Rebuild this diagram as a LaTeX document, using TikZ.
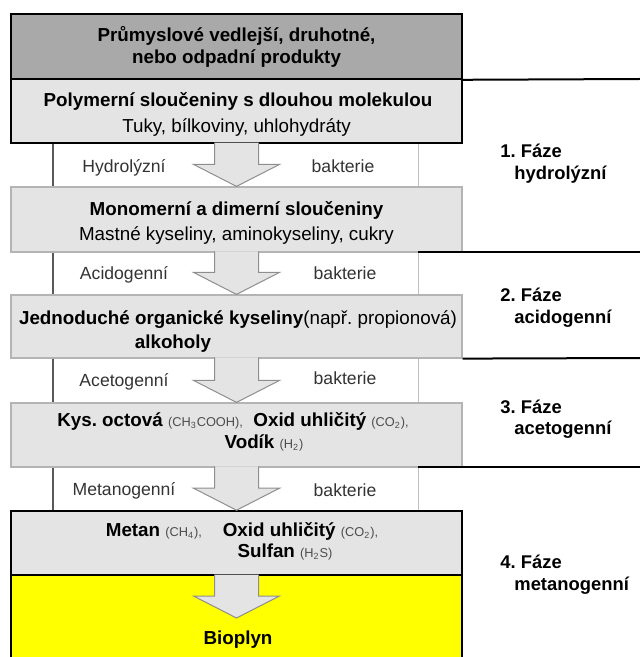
\documentclass[tikz,border=0pt]{standalone}
\usepackage{fontspec}
\setmainfont{Liberation Sans}
\usepackage{xcolor}
\frenchspacing

\definecolor{topgray}{HTML}{A9A9A9}
\definecolor{boxgray}{HTML}{E4E4E4}
\definecolor{edgegray}{HTML}{B4B4B4}
\definecolor{arrowgray}{HTML}{8E8E8E}
\definecolor{biogas}{HTML}{FFFF00}

\newcommand{\chem}[1]{{\fontsize{6.4}{7}\selectfont\mdseries\color{black!70}#1}}
% block arrow from the bottom of one box down to a tip
\newcommand{\stagearrow}[2]{%
  \filldraw[stagearrow] ([xshift=-11pt,yshift=0.6pt]#1) -- ([xshift=-11pt,yshift=11pt]#2)
    -- ([xshift=-21.5pt,yshift=11pt]#2) -- (#2)
    -- ([xshift=21.5pt,yshift=11pt]#2) -- ([xshift=11pt,yshift=11pt]#2)
    -- ([xshift=11pt,yshift=0.6pt]#1);}

\tikzset{
  stage/.style={rectangle,draw=edgegray,fill=boxgray,line width=0.6pt,
    minimum width=225.5pt,inner sep=0pt},
  stagedark/.style={stage,draw=black,line width=0.8pt},
  stagearrow/.style={fill=boxgray,draw=arrowgray,line width=0.5pt,line join=miter},
  title/.style={anchor=base,inner sep=0pt,font=\fontsize{9.4}{11}\selectfont\bfseries},
  note/.style={anchor=base,inner sep=0pt,font=\fontsize{9.4}{11}\selectfont},
  microbe/.style={anchor=base,inner sep=0pt,text=black!80,font=\fontsize{8.8}{10}\selectfont},
  phase/.style={anchor=base west,inner sep=0pt,font=\fontsize{9.2}{10}\selectfont\bfseries},
  bandleft/.style={draw=black!65,line width=0.8pt},
  bandright/.style={draw=black!25,line width=0.5pt},
  phaseline/.style={draw=black,line width=1pt}
}

\begin{document}
\begin{tikzpicture}[x=0.5pt,y=-0.5pt]
\useasboundingbox (0,0) rectangle (640,657);

% bacteria bands
\foreach \top/\bot in {143/187,252/295,358/403,467/511}{
  \draw[bandleft] (53,\top) -- (53,\bot);
  \draw[bandright] (418,\top) -- (418,\bot);
}

% boxes
\node[stagedark,fill=topgray,minimum height=32.5pt] (waste) at (236.5,46.5) {};
\node[stagedark,minimum height=32pt] (poly) at (236.5,111) {};
\node[stage,minimum height=32.5pt] (mono) at (236.5,219.5) {};
\node[stage,minimum height=31.5pt] (acids) at (236.5,326.5) {};
\node[stage,minimum height=32pt] (acetic) at (236.5,435) {};
\node[stagedark,minimum height=32pt] (methane) at (236.5,543) {};
\node[stagedark,fill=biogas,minimum height=42.5pt] (biogas) at (236.5,617.5) {};
\coordinate (biotip) at (236.5,618);

% arrows
\stagearrow{poly.south}{mono.north}
\stagearrow{mono.south}{acids.north}
\stagearrow{acids.south}{acetic.north}
\stagearrow{acetic.south}{methane.north}
\stagearrow{methane.south}{biotip}

% box texts
\node[title] (waste1) at (236.5,42) {Průmyslové vedlejší, druhotné,};
\node[title] (waste2) at (236.5,64) {nebo odpadní produkty};
\node[title] (poly1) at (238,107) {Polymerní sloučeniny s dlouhou molekulou};
\node[note] (poly2) at (236.5,133) {Tuky, bílkoviny, uhlohydráty};
\node[title] (mono1) at (236.5,216) {Monomerní a dimerní sloučeniny};
\node[note] (mono2) at (236.5,241) {Mastné kyseliny, aminokyseliny, cukry};
\node[title] (acids1) at (238,324) {Jednoduché organické kyseliny\mdseries(např. propionová)};
\node[title] (acids2) at (173,348) {alkoholy};
\node[title] (acetic1) at (233,426) {Kys. octová \chem{(CH\textsubscript{3}COOH),}\ \ Oxid uhličitý \chem{(CO\textsubscript{2}),}};
\node[title] (acetic2) at (264,448) {Vodík \chem{(H\textsubscript{2})}};
\node[title] (methane1) at (242,536) {Metan \chem{(CH\textsubscript{4}),}\ \ \ \ Oxid uhličitý \chem{(CO\textsubscript{2}),}};
\node[title] (methane2) at (285,557) {Sulfan \chem{(H\textsubscript{2}S)}};
\node[title] (biogas1) at (238,644) {Bioplyn};

% bacteria
\node[microbe] (hydro) at (124,173) {Hydrolýzní};
\node[microbe] (bact1) at (343,173) {bakterie};
\node[microbe] (acido) at (124,279) {Acidogenní};
\node[microbe] (bact2) at (345,279) {bakterie};
\node[microbe] (aceto) at (124,386) {Acetogenní};
\node[microbe] (bact3) at (345,384) {bakterie};
\node[microbe] (metano) at (124,495) {Metanogenní};
\node[microbe] (bact4) at (345,496) {bakterie};

% phases
\draw[phaseline] (waste.south east) -- (640,79);
\draw[phaseline] (418,252) -- (640,252);
\draw[phaseline] (acids.south east) -- (640,358);
\draw[phaseline] (418,467) -- (640,467);
\node[phase] (ph1) at (500,158) {1. Fáze};
\node[phase] (ph1b) at (514,180) {hydrolýzní};
\node[phase] (ph2) at (500,301) {2. Fáze};
\node[phase] (ph2b) at (514,323) {acidogenní};
\node[phase] (ph3) at (500,413) {3. Fáze};
\node[phase] (ph3b) at (514,434) {acetogenní};
\node[phase] (ph4) at (500,568) {4. Fáze};
\node[phase] (ph4b) at (514,590) {metanogenní};
\end{tikzpicture}
\end{document}
